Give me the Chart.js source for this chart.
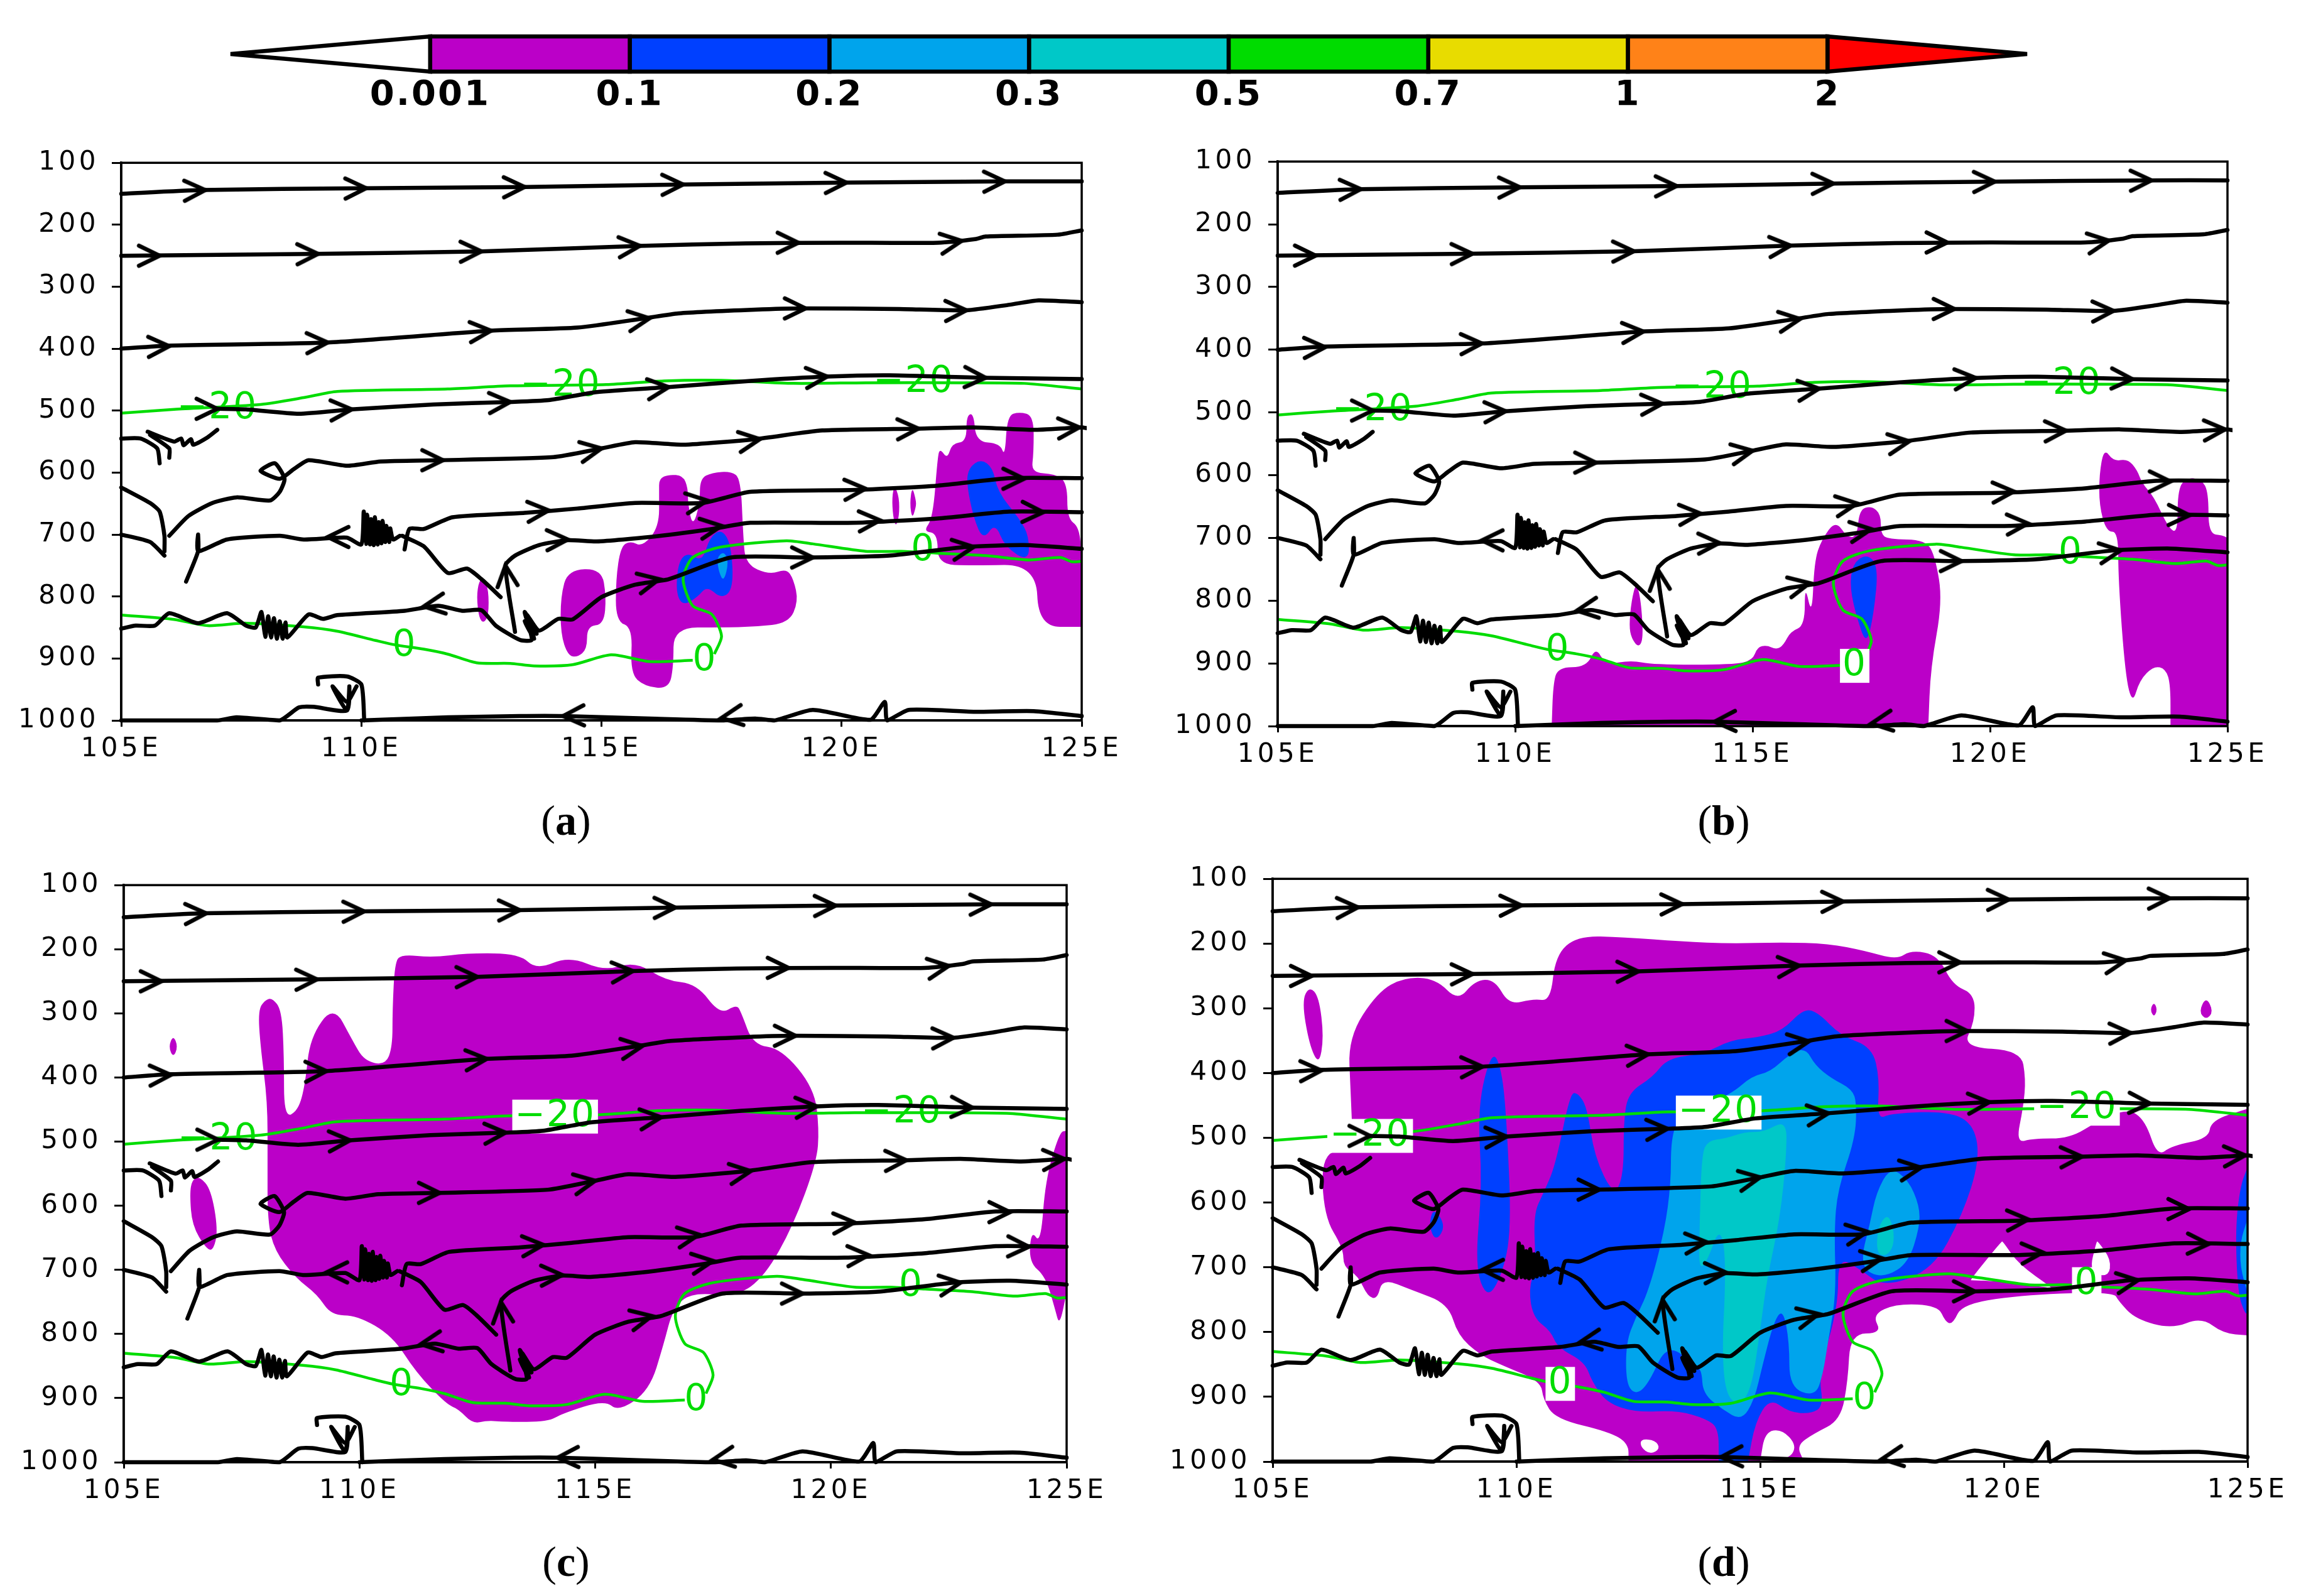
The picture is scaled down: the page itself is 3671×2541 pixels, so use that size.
<!DOCTYPE html>
<html>
<head>
<meta charset="utf-8">
<style>
html,body{margin:0;padding:0;background:#fff;width:3671px;height:2541px;overflow:hidden}
canvas{position:absolute}
.cap{position:absolute;font:68px "Liberation Serif",serif;color:#000;transform:translateX(-50%);line-height:1}
.cap b{font-weight:700}
</style>
<script src="https://cdn.jsdelivr.net/npm/chart.js@4/dist/chart.umd.js"></script>
</head>
<body>
<script>
// ---------- colour bar ----------
const cbLevels = ['0.001','0.1','0.2','0.3','0.5','0.7','1','2'];
const cbColors = ['#ffffff','#bb00c8','#0040ff','#00a4ec','#00c8c8','#00dc00','#e8dc00','#ff8218','#ff0000'];

// ---------- axes ----------
const lonTicks = [105,110,115,120,125];
const pressureTicks = [100,200,300,400,500,600,700,800,900,1000];

// ---------- streamlines (lon, hPa), the same wind field in all four panels ----------
const s1 = [[105,150],[106.7,144],[110,141],[113.4,139],[116.7,135],[120,132],[123.4,130],[125,130]];
const s2 = [[105,250],[109,247],[112.5,243],[115.8,234],[118,230],[120,229],[122,229],[122.8,223],[123,219],[124.5,216],[125,209]];
const s3 = [[105,400],[106,395],[109.3,390],[112.7,371],[114.5,366],[115.9,351],[116.6,343],[118.2,337],[119.2,335],[121.2,336],[122.6,338],[123.5,329],[124.1,322],[125,325]];
const s4 = [[107,497],[107.6,498],[108.7,505],[109.8,498],[111.5,490],[113.1,486],[113.9,483],[114.9,470],[116.4,462],[118.1,452],[119.7,445],[121,443],[123,447],[125,449]];
const s5a = [[105,545],[105.4,545],[105.75,561],[105.8,585]];
const s5b = [[105.6,539],[106,561],[106,576]];
const s5c = [[105.55,534],[106.1,550],[106.25,545],[106.3,556],[106.45,546],[106.5,555],[106.8,543],[107,531]];
const s6 = [[106,702],[106.4,670],[106.9,649],[107.4,640],[108.1,645],[108.3,631],[108.4,610],[108.2,585],[107.9,597],[108.3,610],[108.6,594],[108.9,580],[109.7,589],[110.4,582],[111.6,580],[114,575],[115,561],[115.7,551],[116.7,555],[118.2,546],[119.6,532],[121.6,529],[122.75,527],[124,531],[125,527],[125.15,529]];
const s7 = [[105,624],[105.6,649],[105.8,663],[105.9,702],[105.9,727]];
const s8 = [[105,700],[105.6,712],[105.9,734]];
const s9 = [[110.9,724],[111,691],[111.3,691],[111.9,672],[113.4,665],[114.5,658],[115.7,649],[117.1,649],[118.1,631],[120.3,628],[122,621],[123.5,609],[125,609]];
const s10 = [[106.35,776],[106.6,727],[106.6,700],[106.6,727],[107.2,708],[108.3,702],[108.8,708],[109.7,705],[110,716],[110.05,663],[110.1,715],[110.12,668],[110.18,716],[110.2,675],[110.26,717],[110.28,672],[110.34,716],[110.36,680],[110.42,714],[110.44,678],[110.5,712],[110.52,686],[110.58,712],[110.6,690],[110.66,708],[110.8,702]];
const s11 = [[110.85,702],[111.3,719],[111.8,762],[112.2,755],[112.5,772],[112.9,801]];
const s12 = [[113.2,857],[113,750],[113.2,734],[113.7,717],[114.3,709],[114.9,711],[116,704],[117.3,691],[118.1,681],[120.3,681],[122,674],[123.5,663],[125,664]];
const s13 = [[105,852],[105.3,847],[105.7,847],[106,827],[106.6,843],[107.2,827],[107.6,847],[107.8,850],[107.92,825],[108,865],[108.06,832],[108.12,866],[108.18,835],[108.24,868],[108.3,840],[108.36,868],[108.42,842],[108.46,866],[108.9,829],[109.2,836],[109.5,830],[110.9,823],[111.6,815],[112.1,823],[112.5,822],[112.8,847],[113.3,870],[113.55,870],[113.4,825],[113.65,860],[113.4,840],[113.6,868],[113.45,830],[113.7,855],[114.1,836],[114.4,837],[115,801],[115.7,781],[116.4,772],[117.7,737],[119.4,737],[121,734],[122.6,720],[123.8,717],[125,723]];
const s14 = [[105,1000],[107,1000],[107.4,995],[108.3,1000],[108.7,979],[109,978],[109.7,984],[109.75,945],[109.7,984],[109.4,945],[109.7,970],[109.9,945]];
const s15 = [[109.1,942],[109.1,931],[109.7,929],[110,942],[110.06,1000]];
const s16 = [[110,1000],[111.8,995],[113.3,993],[114.2,993],[116,997],[117.5,1000],[118.2,997],[118.6,1000],[119.4,983],[120.6,999],[120.9,970],[120.95,1000],[121.4,983],[122.75,986],[124,985],[125,993]];
const streamlines = [s1,s2,s3,s4,s5a,s5b,s5c,s6,s7,s8,s9,s10,s11,s12,s13,s14,s15,s16];

// arrow tips: lon, hPa, direction in degrees (0 = towards the east, clockwise positive)
const arrowTips = [
 [106.75,144,-2],[110.1,141,-1],[113.4,139,-1],[116.7,135,-1],[120.1,132,-1],[123.4,130,-1],
 [105.8,250,0],[109.1,247,-1],[112.5,243,-1],[115.8,234,-4],[119.1,229,0],[122.5,226,-8],
 [106,396,-2],[109.3,390,-2],[112.7,371,-4],[116,351,-8],[119.25,335,0],[122.6,338,-2],
 [107,497,0],[109.8,498,-3],[113.1,486,-3],[116.4,462,-6],[119.7,445,-4],[123,447,2],
 [111.7,580,0],[115,561,-10],[118.3,546,-8],[121.6,529,-2],[124.95,527,-3],
 [113.9,661,-4],[117.2,645,-8],[120.5,626,-3],[123.8,610,0],
 [113,750,-96],[114.3,708,-2],[117.5,686,-8],[120.8,677,-3],[124.2,664,1],
 [116.2,772,-12],[119.4,737,0],[122.75,720,-8],[111.3,816,172],
 [109.3,704,180],[114.2,993,178],[117.5,996,172]
];

// ---------- temperature contours ----------
const tempMinus20 = [[105,504],[106.1,498],[107.9,490],[108.8,479],[109.5,469],[111.8,465],[113.1,460],[115.1,458],[116.3,452],[117.5,451],[119,456],[120.5,455],[122.45,455],[123.8,456],[125,465]];
const tempZeroWest = [[105,830],[106.1,837],[106.8,847],[107.6,843],[108.8,849],[109.5,856],[110.3,871],[110.7,878],[111.3,885],[111.8,893],[112.4,907],[113.1,908],[113.6,912],[114.4,910],[115.2,894],[116,905],[116.9,903]];
const tempZeroEast = [[117.35,893],[117.5,864],[117.3,829],[116.9,815],[116.7,772],[116.9,737],[117.5,720],[118.85,710],[119.4,715],[120.5,727],[121.25,727],[122,730],[123,734],[123.9,741],[124.55,737],[124.8,744],[125,743]];
// contour labels: text, lon, hPa
const contourLabels = [['−20',107.0,497],['−20',114.15,461],['−20',121.5,455],['0',110.9,880],['0',117.15,904],['0',121.7,726]];
// which labels have a white patch, per panel
const boxedA = [], boxedB = [4], boxedC = [1], boxedD = [0,1,2,3,5];

// ---------- panel (a) ----------
const aPurple1 = [[112.45,775],[112.55,769],[112.65,790],[112.65,830],[112.55,843],[112.45,835],[112.4,800]];
const aPurple2 = [[114.3,757],[115,755],[115.1,800],[115.05,845],[114.7,848],[114.7,885],[114.5,898],[114.3,895],[114.15,860],[114.15,800]];
const aPurple3 = [[116.2,610],[116.4,603],[116.7,605],[116.8,625],[116.8,650],[116.9,688],[117.05,650],[117.05,610],[117.3,600],[117.7,598],[117.9,610],[117.95,700],[118,748],[118.5,765],[118.85,755],[119,772],[119.1,808],[118.9,843],[118.2,849],[117.5,850],[116.5,850],[116.5,914],[116.4,949],[115.9,945],[115.6,924],[115.65,850],[115.3,840],[115.3,772],[115.4,720],[115.6,710],[115.85,720],[116.2,688],[116.2,631]];
const aPurple4 = [[121.7,695],[121.9,674],[122,575],[122.05,561],[122.2,578],[122.3,553],[122.6,550],[122.6,508],[122.75,504],[122.8,550],[123.3,553],[123.4,575],[123.45,508],[123.7,502],[124,508],[124,568],[123.95,600],[124.45,602],[124.7,617],[124.7,674],[124.95,688],[125,737],[125,849],[124.1,849],[124.05,748],[122.7,750],[122,748],[122,698]];
const aPurple5 = [[121.1,620],[121.2,640],[121.2,670],[121.13,688],[121.07,670],[121.05,640]];
const aPurple6 = [[121.47,622],[121.55,645],[121.55,655],[121.47,675],[121.42,650]];
const aBlue1 = [[117.5,691],[117.7,716],[117.75,787],[117.5,804],[117.2,783],[117,801],[116.7,815],[116.55,794],[116.6,744],[116.8,729],[117.1,744],[117.25,705]];
const aBlue2 = [[122.9,578],[123.15,592],[123.25,631],[123.7,674],[123.9,702],[123.9,744],[123.4,720],[123.2,681],[122.95,709],[122.75,674],[122.6,617],[122.65,592]];
const aSky1 = [[117.55,727],[117.65,744],[117.55,776],[117.45,762],[117.4,737]];

// ---------- panel (b) ----------
const bPurple1 = [[112.4,840],[112.45,800],[112.55,770],[112.65,800],[112.7,860],[112.6,875],[112.45,860]];
const bPurple2 = [[110.77,1000],[110.8,934],[110.9,906],[111.5,906],[111.7,874],[111.9,902],[112.45,895],[112.9,902],[114.6,902],[115,895],[115.1,874],[115.3,871],[115.5,878],[115.65,871],[115.8,849],[116.1,840],[116.1,773],[116.25,826],[116.3,738],[116.45,703],[116.75,672],[117,700],[117.2,697],[117.25,655],[117.5,649],[117.7,662],[117.7,693],[117.85,702],[118.65,703],[118.85,731],[119,801],[118.75,906],[118.7,1000]];
const bPurple3 = [[122.4,557],[122.6,578],[122.9,574],[123.1,592],[123.2,613],[123.45,634],[123.75,683],[123.95,693],[123.95,627],[124.1,604],[124.45,606],[124.6,627],[124.6,693],[124.9,696],[125,700],[125,1000],[123.8,1000],[123.8,934],[123.7,909],[123.45,904],[123.15,927],[123,965],[122.85,920],[122.7,766],[122.7,690],[122.45,690],[122.3,648],[122.3,599]];
const bBlue1 = [[117.4,725],[117.65,745],[117.55,822],[117.4,871],[117.2,829],[117.05,780],[117.1,742]];

// ---------- panel (c) ----------
const cPurple1 = [[110.75,220],[110.9,208],[111.55,213],[112.3,206],[113.4,207],[113.75,232],[114.45,211],[115.2,234],[115.85,219],[116.5,249],[117.15,254],[117.65,302],[118,286],[118.1,299],[118.35,349],[118.95,355],[119.65,417],[119.75,481],[119.7,531],[119.2,631],[118.6,710],[118,742],[117.05,735],[116.65,760],[116.45,817],[116.15,888],[115.5,921],[115.2,903],[114.3,924],[114,937],[113.1,937],[112.7,935],[112.4,940],[112.1,917],[111.85,910],[111.2,860],[110.7,803],[109.95,771],[109.4,771],[109.1,738],[108.65,713],[108.2,670],[108.05,624],[108.05,531],[108.05,438],[107.9,352],[107.85,295],[108,279],[108.15,276],[108.35,295],[108.4,367],[108.4,463],[108.7,452],[108.85,410],[108.95,338],[109.45,287],[109.85,342],[110.1,374],[110.55,381],[110.7,352],[110.7,295]];
const cPurple2 = [[106.05,334],[106.15,352],[106.05,369],[105.95,352]];
const cPurple3 = [[106.6,554],[106.85,574],[107,638],[106.9,670],[106.75,667],[106.45,631],[106.4,581],[106.45,560]];
const cPurple4 = [[124.85,485],[125,483],[125,735],[124.85,788],[124.75,760],[124.55,710],[124.2,688],[124.25,638],[124.45,660],[124.55,560]];

// ---------- panel (d) ----------
const dPurple1 = [[105.75,266],[105.95,282],[106.05,345],[105.95,388],[105.75,356],[105.6,289]];
const dPurple2 = [[123.08,290],[123.15,302],[123.08,314],[123,302]];
const dPurple3 = [[124.15,282],[124.3,305],[124.15,318],[124,305]];
const dPurple4 = [[106.55,345],[107.15,275],[107.7,252],[108.35,254],[108.8,289],[109.15,257],[109.55,255],[109.85,295],[110.35,285],[110.7,289],[110.8,218],[111.25,188],[112.2,190],[113.4,197],[114.4,200],[115.45,198],[116.4,200],[117.15,211],[117.8,225],[118.1,210],[118.65,218],[118.95,264],[119.4,278],[119.4,321],[119.15,360],[120.35,365],[120.45,409],[120.4,452],[120.25,508],[120.6,501],[121.35,501],[121.95,473],[122.55,455],[122.9,473],[123.15,529],[123.45,512],[124.2,501],[124.25,473],[125,455],[125,805],[124.5,802],[124.05,777],[123.45,795],[122.7,780],[122.35,752],[122.25,738],[120.5,742],[119.15,756],[118.95,788],[118.8,784],[118.65,759],[117.8,756],[117.3,773],[117.5,802],[116.85,802],[116.8,876],[116.65,936],[116.1,957],[115.75,975],[115.9,1000],[112.3,1000],[112.3,972],[111.9,954],[110.8,934],[110.55,904],[110.5,876],[109.7,851],[109.25,835],[108.8,805],[108.6,756],[107.85,735],[107.25,717],[107.15,749],[106.95,745],[106.75,713],[106.45,699],[106.45,671],[106.05,621],[106,522],[106.65,519],[106.6,430]];
const dHole1 = [[119.95,660],[119.98,660],[120.3,695],[121,732],[120.95,732],[120.05,722],[119.35,720],[119.3,720]];
const dHole2 = [[121.9,660],[121.93,660],[122.2,688],[122.15,715],[121.75,708]];
const dHole3 = [[112.55,965],[112.85,967],[112.95,980],[112.75,989],[112.55,978]];
const dHole4 = [[115.1,954],[115.45,950],[115.75,975],[115.6,996],[115,1000]];
const dBlue1 = [[109.5,363],[109.7,395],[109.8,473],[109.9,643],[109.7,713],[109.4,749],[109.15,699],[109.3,572],[109.2,452]];
const dBlue2 = [[108.3,607],[108.55,636],[108.35,660],[108.2,636]];
const dBlue3 = [[111.25,430],[111.45,452],[111.6,529],[112,590],[112.2,558],[112.2,473],[112.3,430],[112.8,406],[113.1,377],[113.85,370],[114.4,349],[114.95,345],[115.45,335],[115.9,300],[116.2,307],[116.65,342],[117.3,360],[117.45,409],[117.4,472],[117.7,462],[118.9,459],[119.4,481],[119.5,536],[119.15,619],[118.55,703],[117.55,731],[117.05,703],[116.6,684],[116.6,761],[116.2,865],[116.3,914],[116.05,926],[115.6,924],[115.2,902],[114.9,939],[114.75,1000],[114.15,1000],[114.15,949],[113.9,934],[113.3,921],[112.45,924],[111.85,909],[111.55,876],[111.4,846],[110.85,824],[110.7,798],[110.35,778],[110.25,735],[110.4,697],[110.35,618],[110.55,586],[110.8,543],[111.1,432]];
const dBlue4 = [[125,545],[124.85,575],[124.75,640],[124.8,740],[124.95,772],[125,770]];
const dSky1 = [[115.93,361],[116.13,388],[116.46,408],[116.89,425],[116.98,447],[116.95,501],[116.59,580],[116.52,644],[116.56,742],[116.39,816],[116.29,865],[116.13,900],[115.6,885],[115.6,816],[115.47,764],[115.28,784],[115.05,851],[114.88,905],[114.62,937],[114.22,919],[113.83,895],[113.8,860],[113.7,855],[113.1,816],[112.71,880],[112.45,897],[112.25,880],[112.25,816],[112.45,777],[112.71,737],[113.04,644],[113.17,570],[113.17,506],[113.3,472],[114.42,432],[114.82,405],[115.21,398],[115.6,371]];
const dSky2 = [[117.67,545],[118.04,565],[118.27,605],[118.27,639],[118.04,693],[117.58,715],[117.18,708],[117.08,683],[117.25,634],[117.38,585]];
const dSky3 = [[125,625],[124.85,660],[124.85,700],[125,740]];
const dTeal1 = [[115.54,472],[115.54,526],[115.41,624],[115.14,718],[115.01,792],[114.82,890],[114.55,914],[114.29,895],[114.22,826],[114.29,723],[114.26,659],[114.13,644],[113.93,688],[113.74,705],[113.76,634],[113.8,526],[113.93,504],[114.29,501],[114.68,491],[115.08,491]];
const dTeal2 = [[117.61,617],[117.74,639],[117.74,668],[117.58,683],[117.39,678],[117.41,639]];

// ---------- styling and layout ----------
const PURPLE = cbColors[1], BLUE = cbColors[2], SKY = cbColors[3], TEAL = cbColors[4], WHITE = '#ffffff', GREEN = '#00dc00';
const FONT = '"DejaVu Sans", sans-serif';
const panels = [
 {L:193, R:1722, T:254, B:1147, boxed:boxedA, shapes:[[PURPLE,aPurple1],[PURPLE,aPurple2],[PURPLE,aPurple3],[PURPLE,aPurple4],[PURPLE,aPurple5],[PURPLE,aPurple6],[BLUE,aBlue1],[BLUE,aBlue2],[SKY,aSky1]]},
 {L:2034,R:3546,T:252, B:1156, boxed:boxedB, shapes:[[PURPLE,bPurple1],[PURPLE,bPurple2],[PURPLE,bPurple3],[BLUE,bBlue1]]},
 {L:197, R:1698,T:1404,B:2328, boxed:boxedC, shapes:[[PURPLE,cPurple1],[PURPLE,cPurple2],[PURPLE,cPurple3],[PURPLE,cPurple4]]},
 {L:2026,R:3578,T:1394,B:2327, boxed:boxedD, shapes:[[PURPLE,dPurple1],[PURPLE,dPurple2],[PURPLE,dPurple3],[PURPLE,dPurple4],[WHITE,dHole1],[WHITE,dHole2],[WHITE,dHole3],[WHITE,dHole4],[BLUE,dBlue1],[BLUE,dBlue2],[BLUE,dBlue3],[BLUE,dBlue4],[SKY,dSky1],[SKY,dSky2],[SKY,dSky3],[TEAL,dTeal1],[TEAL,dTeal2]]}
];
const captions = [['a',901,1272],['b',2744,1272],['c',901,2452],['d',2744,2452]];

const xy = a => a.map(p => ({x:p[0], y:p[1]}));

// chevron used as the arrow point style; its tip sits at the image centre
const chevron = document.createElement('canvas');
chevron.width = chevron.height = 90;
(function(){
  const c = chevron.getContext('2d');
  c.strokeStyle = '#000'; c.lineWidth = 6.5; c.lineCap = 'round'; c.lineJoin = 'miter';
  c.beginPath(); c.moveTo(45-33,45-16); c.lineTo(45,45); c.lineTo(45-33,45+16); c.stroke();
})();

// fills a polygon dataset from the pixel positions of its own points
const polygonPlugin = {
  id:'polygon',
  beforeDatasetDraw(chart, args){
    const ds = chart.data.datasets[args.index];
    if(!ds.polygon) return;
    const pts = chart.getDatasetMeta(args.index).data, ctx = chart.ctx, a = chart.chartArea, n = pts.length;
    const edge = p => ds.sharp || Math.abs(p.x-a.right)<1 || Math.abs(p.y-a.bottom)<1 || Math.abs(p.y-a.top)<1;
    ctx.save();
    if(!ds.sharp){ ctx.beginPath(); ctx.rect(a.left,a.top,a.width,a.height); ctx.clip(); }
    ctx.beginPath();
    const mid = (p,q)=>({x:(p.x+q.x)/2,y:(p.y+q.y)/2});
    if(ds.sharp){
      pts.forEach((p,i)=> i? ctx.lineTo(p.x,p.y):ctx.moveTo(p.x,p.y));
    } else {
      let s = mid(pts[n-1],pts[0]); ctx.moveTo(s.x,s.y);
      for(let i=0;i<n;i++){
        const c = pts[i], m = mid(c,pts[(i+1)%n]);
        if(edge(c)){ ctx.lineTo(c.x,c.y); ctx.lineTo(m.x,m.y); }
        else ctx.quadraticCurveTo(c.x,c.y,m.x,m.y);
      }
    }
    ctx.closePath();
    ctx.fillStyle = ds.polygon; ctx.fill();
    if(ds.outline){ ctx.strokeStyle='#000'; ctx.lineWidth=ds.outline; ctx.lineJoin='miter'; ctx.stroke(); }
    ctx.restore();
  }
};

// spaced tick text and the plot frame
const framePlugin = {
  id:'frame',
  beforeDraw(chart,args,opts){ chart.ctx.letterSpacing = (opts.spacing||0)+'px'; },
  afterDatasetsDraw(chart,args,opts){
    if(!opts.box) return;
    const c = chart.ctx, a = chart.chartArea;
    c.save(); c.strokeStyle='#000'; c.lineWidth=3.5; c.strokeRect(a.left,a.top,a.width,a.height); c.restore();
  }
};

// contour labels, placed through the scales, right after the contour line under the streamlines
const labelPlugin = {
  id:'contourLabels',
  afterDatasetDraw(chart,args,opts){
    const ds = chart.data.datasets[args.index];
    if(!ds.carriesLabels) return;
    const c = chart.ctx, xs = chart.scales.x, ys = chart.scales.y;
    c.save();
    c.letterSpacing='2px';
    c.font = '58px '+FONT; c.textAlign='center'; c.textBaseline='middle';
    contourLabels.forEach((l,i)=>{
      const x = xs.getPixelForValue(l[1]), y = ys.getPixelForValue(l[2]);
      const w = c.measureText(l[0]).width;
      c.fillStyle = '#ffffff';
      if(opts.boxed.includes(i)) c.fillRect(x-w/2-4,y-27,w+8,54);
      c.fillStyle = GREEN;
      c.fillText(l[0],x,y);
    });
    c.restore();
  }
};
Chart.register(polygonPlugin,framePlugin,labelPlugin);

panels.forEach(p=>{
  const pad = {left:190, right:70, top:40, bottom:90};
  const cv = document.createElement('canvas');
  const W = p.R-p.L+pad.left+pad.right, H = p.B-p.T+pad.top+pad.bottom;
  cv.width=W; cv.height=H;
  cv.style.left=(p.L-pad.left)+'px'; cv.style.top=(p.T-pad.top)+'px';
  cv.style.width=W+'px'; cv.style.height=H+'px';
  document.body.appendChild(cv);
  const datasets = [];
  let ord = 1000;
  p.shapes.forEach(s=>datasets.push({data:xy(s[1]),polygon:s[0],showLine:false,pointRadius:0,order:ord--}));
  [tempMinus20,tempZeroWest,tempZeroEast].forEach((g,i)=>datasets.push({data:xy(g),showLine:true,borderColor:GREEN,borderWidth:4.5,pointRadius:0,tension:0.25,order:500-i,carriesLabels:i===2}));
  streamlines.forEach(s=>datasets.push({data:xy(s),showLine:true,borderColor:'#000',borderWidth:6.5,borderCapStyle:'round',borderJoinStyle:'round',pointRadius:0,tension:0.2,clip:8,order:100}));
  datasets.push({data:arrowTips.map(a=>({x:a[0],y:a[1],rot:a[2]})),showLine:false,pointStyle:chevron,pointRadius:6,pointRotation:c=>c.raw?c.raw.rot:0,clip:false,order:50});
  new Chart(cv,{
    type:'scatter',
    data:{datasets},
    options:{
      responsive:false,animation:false,devicePixelRatio:1,events:[],
      layout:{padding:{top:pad.top,right:pad.right,left:0,bottom:0}},
      plugins:{legend:{display:false},tooltip:{enabled:false},frame:{box:true,spacing:5.5},contourLabels:{boxed:p.boxed},polygon:{}},
      scales:{
        x:{type:'linear',min:lonTicks[0],max:lonTicks[lonTicks.length-1],
           afterFit:s=>{s.height=pad.bottom},
           afterBuildTicks:s=>{s.ticks=lonTicks.map(v=>({value:v}))},
           ticks:{autoSkip:false,maxRotation:0,color:'#000',padding:11,font:{family:FONT,size:42},callback:v=>v+'E'},
           grid:{drawOnChartArea:false,tickLength:10,tickWidth:3,tickColor:'#000'},border:{color:'#000',width:3.5}},
        y:{type:'linear',reverse:true,min:pressureTicks[0],max:pressureTicks[pressureTicks.length-1],
           afterFit:s=>{s.width=pad.left},
           afterBuildTicks:s=>{s.ticks=pressureTicks.map(v=>({value:v}))},
           ticks:{autoSkip:false,color:'#000',padding:20,font:{family:FONT,size:42},callback:v=>String(v)},
           grid:{drawOnChartArea:false,tickLength:15,tickWidth:3,tickColor:'#000'},border:{color:'#000',width:3.5}}
      }
    }
  });
});

// ---------- colour bar chart ----------
(function(){
  const L=367,R=3227,T=58,B=114, pad={top:10,bottom:70};
  const cv=document.createElement('canvas');
  const W=R-L+200,H=B-T+pad.top+pad.bottom;
  cv.width=W;cv.height=H;
  cv.style.left=(L-100)+'px';cv.style.top=(T-pad.top)+'px';cv.style.width=W+'px';cv.style.height=H+'px';
  document.body.appendChild(cv);
  const n=cbColors.length;
  const datasets=cbColors.map((col,i)=>{
    let pts;
    if(i===0) pts=[[-1,0.5],[0,1],[0,0]];
    else if(i===n-1) pts=[[n-2,1],[n-1,0.5],[n-2,0]];
    else pts=[[i-1,0],[i-1,1],[i,1],[i,0]];
    return {data:xy(pts),polygon:col,sharp:true,outline:6.5,showLine:false,pointRadius:0};
  });
  new Chart(cv,{
    type:'scatter',
    data:{datasets},
    options:{
      responsive:false,animation:false,devicePixelRatio:1,events:[],
      layout:{padding:{left:100,right:100,top:pad.top,bottom:0}},
      plugins:{legend:{display:false},tooltip:{enabled:false},frame:{box:false,spacing:3}},
      scales:{
        x:{type:'linear',min:-1,max:n-1,
           afterFit:s=>{s.height=pad.bottom},
           afterBuildTicks:s=>{s.ticks=cbLevels.map((_,i)=>({value:i}))},
           ticks:{autoSkip:false,maxRotation:0,color:'#000',padding:5,font:{family:FONT,size:56,weight:'bold'},callback:(v,i)=>cbLevels[i]},
           grid:{display:false,drawTicks:false},border:{display:false}},
        y:{type:'linear',min:0,max:1,display:false}
      }
    }
  });
})();

// ---------- captions ----------
captions.forEach(c=>{
  const d=document.createElement('div');
  d.className='cap';d.style.left=c[1]+'px';d.style.top=c[2]+'px';
  d.innerHTML='(<b>'+c[0]+'</b>)';
  document.body.appendChild(d);
});
</script>
</body>
</html>
